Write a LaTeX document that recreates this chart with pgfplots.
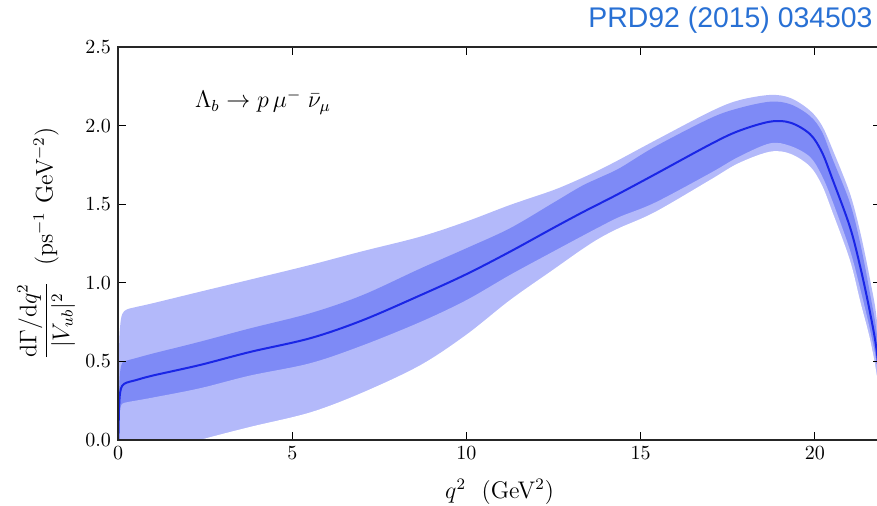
\documentclass[border=0pt]{standalone}
\usepackage{amsmath}
\usepackage{pgfplots}
\pgfplotsset{compat=1.18}
\usepackage{pgfplotstable}
\usepackage{fontspec}
\newfontfamily\titlefont{Liberation Sans}
\definecolor{lightband}{RGB}{179,185,250}
\definecolor{darkband}{RGB}{126,138,246}
\definecolor{centralline}{RGB}{26,38,230}
\definecolor{titleblue}{RGB}{40,112,212}

\pgfplotstableread{
x      LL     DL     C      DU     LU
0.011  -0.15  0.000  0.000  0.000  0.000
0.03   -0.15  0.140  0.200  0.300  0.550
0.06   -0.15  0.200  0.300  0.430  0.720
0.12   -0.15  0.230  0.345  0.490  0.800
0.25   -0.14  0.240  0.365  0.505  0.830
0.5    -0.12  0.250  0.380  0.520  0.845
1.0    -0.09  0.270  0.410  0.550  0.870
2.35   0.000  0.329  0.477  0.625  0.943
3.79   0.083  0.410  0.560  0.710  1.020
5.51   0.175  0.488  0.647  0.806  1.113
7.0    0.300  0.600  0.760  0.920  1.200
8.67   0.475  0.750  0.920  1.090  1.293
10.0   0.670  0.890  1.055  1.220  1.390
11.25  0.890  1.050  1.198  1.347  1.495
12.5   1.085  1.200  1.350  1.510  1.590
13.3   1.210  1.295  1.445  1.615  1.665
13.83  1.285  1.357  1.505  1.670  1.720
14.4   1.350  1.420  1.570  1.730  1.785
15.41  1.450  1.510  1.690  1.866  1.905
16.99  1.654  1.697  1.880  2.046  2.088
17.8   1.760  1.800  1.965  2.110  2.160
18.71  1.834  1.887  2.025  2.152  2.195
19.3   1.820  1.870  2.018  2.135  2.175
19.86  1.739  1.800  1.945  2.060  2.095
20.2   1.620  1.680  1.830  1.960  2.000
20.5   1.450  1.520  1.660  1.790  1.850
21.0   1.145  1.210  1.357  1.510  1.570
21.3   0.880  0.960  1.100  1.250  1.320
21.58  0.640  0.700  0.810  0.930  1.020
21.78  0.400  0.470  0.550  0.660  0.750
21.9   0.150  0.170  0.200  0.240  0.270
}\ratedata

\begin{document}
\begin{tikzpicture}
\begin{axis}[
  scale only axis,
  width=381.6pt, height=196.5pt,
  at={(59pt,33pt)}, anchor=south west,
  xmin=0, xmax=21.9, ymin=0, ymax=2.5,
  xtick={0,5,10,15,20},
  ytick={0,0.5,1,1.5,2,2.5},
  yticklabel style={/pgf/number format/fixed,/pgf/number format/fixed zerofill,/pgf/number format/precision=1},
  tick align=inside,
  major tick length=4pt,
  tick style={black, line width=0.5pt},
  axis line style={line width=0.9pt, black!85},
  label style={font=\large},
  xlabel={$q^2$\ \ (GeV$^2$)},
  ylabel={$\dfrac{\mathrm{d}\Gamma/\mathrm{d}q^2}{|V_{ub}|^2}$\ \ (ps$^{-1}$ GeV$^{-2}$)},
  xlabel style={at={(axis description cs:0.5,-0.132)}, anchor=center},
  ylabel style={at={(axis description cs:-0.094,0.5)}, anchor=center},
  axis on top,
]
\addplot[fill=lightband, draw=none, smooth, tension=0.55] table[x=x, y=LU] {\ratedata} \closedcycle;
\addplot[fill=darkband, draw=none, smooth, tension=0.55] table[x=x, y=DU] {\ratedata} \closedcycle;
\addplot[fill=lightband, draw=none, smooth, tension=0.55] table[x=x, y=DL] {\ratedata} \closedcycle;
\addplot[fill=white, draw=none, smooth, tension=0.55] table[x=x, y=LL] {\ratedata} \closedcycle;
\addplot[centralline, line width=1pt, smooth, tension=0.55] table[x=x, y=C] {\ratedata};
\node[font=\large] at (axis cs:4.16,2.15) {$\Lambda_b \to p\,\mu^-\;\bar\nu_\mu$};
\end{axis}
\node[anchor=east, font=\titlefont\fontsize{14.2pt}{16pt}\selectfont, text=titleblue, inner sep=0pt] at (436.5pt,243pt) {PRD92 (2015) 034503};
\pgfresetboundingbox
\useasboundingbox (0,0) rectangle (438.5pt,253pt);
\end{tikzpicture}
\end{document}
